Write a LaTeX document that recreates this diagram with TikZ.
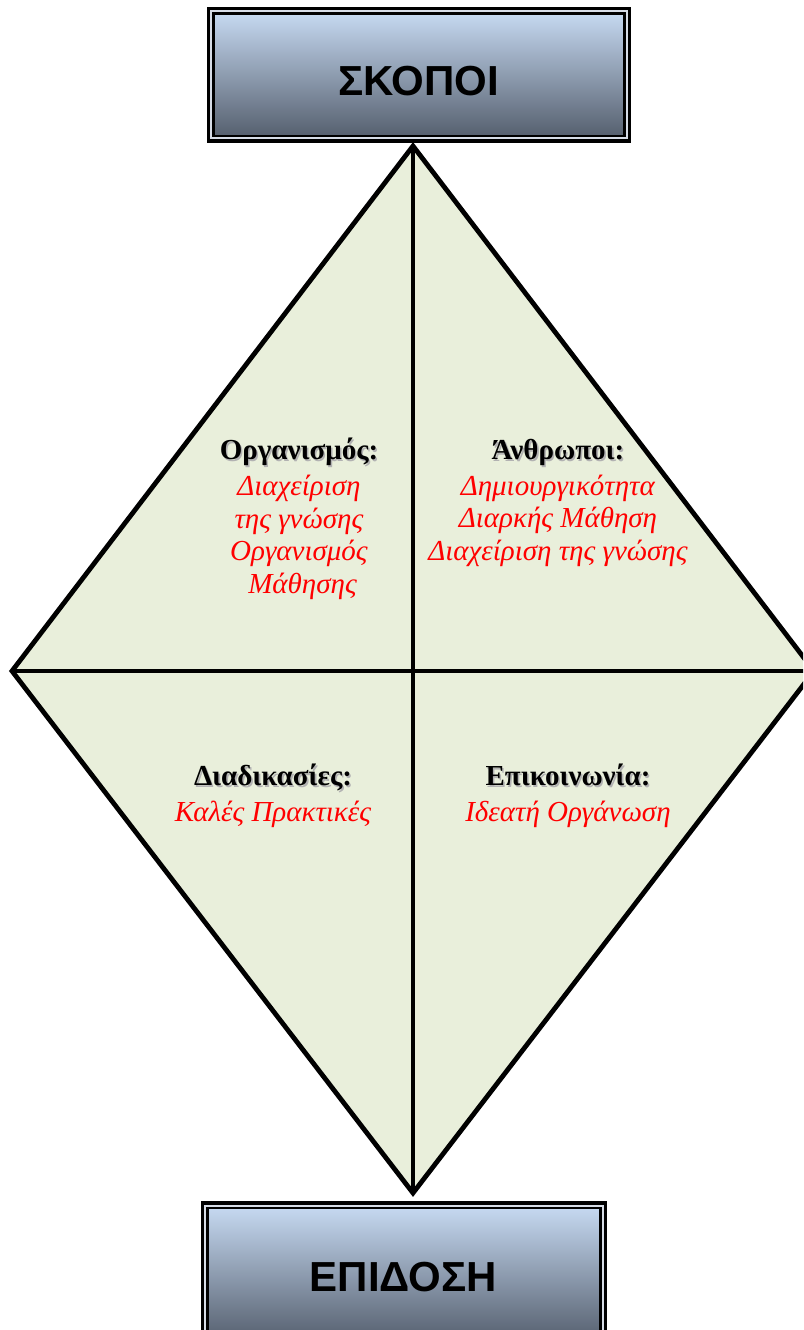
\documentclass[tikz,border=0pt]{standalone}
\usepackage{fontspec}
\setmainfont{Liberation Serif}
\newfontfamily\boxfont{Liberation Sans}
\definecolor{quadfill}{RGB}{233,239,219}
\definecolor{boxtop}{RGB}{197,216,240}
\definecolor{boxmid}{RGB}{165,180,202}
\definecolor{boxbot}{RGB}{86,96,111}
\definecolor{rim}{RGB}{214,220,230}
% bold heading with a soft grey drop shadow
\newcommand{\shadowed}[1]{\makebox[0pt][l]{\hspace{1.6pt}\raisebox{-1.6pt}{\color{black!30}#1}}#1}
\tikzset{
  diamondline/.style={line width=4.8pt, line join=miter},
  frameout/.style={draw=black, line width=3.5pt, fill=rim},
  framein/.style={draw=black, line width=2.2pt, top color=boxtop, middle color=boxmid, bottom color=boxbot},
  boxtitle/.style={font=\boxfont\bfseries\fontsize{42}{50}\selectfont, text=black},
  quadtext/.style={align=center, font=\fontsize{29}{32.7}\selectfont, text=red, inner sep=0pt},
}
\begin{document}
\begin{tikzpicture}[x=1pt,y=-1pt]
  \useasboundingbox (0,0) rectangle (803,1330);
  \clip (0,0) rectangle (803,1330);

  % corners of the diamond
  \coordinate (top) at (413,146);
  \coordinate (bot) at (413,1193);
  \coordinate (lft) at (12,671);
  \coordinate (rgt) at (814,671);

  \fill[quadfill] (top) -- (rgt) -- (bot) -- (lft) -- cycle;
  \draw[diamondline] (top) -- (bot);
  \draw[diamondline] (lft) -- (rgt);
  \draw[diamondline] (top) -- (rgt) -- (bot) -- (lft) -- cycle;

  % top box
  \draw[frameout] (208.5,8.5) rectangle (629.5,141);
  \draw[framein] (213.5,13.5) rectangle (624.5,136);
  \node[boxtitle] (goals) at (418.5,81) {ΣΚΟΠΟΙ};

  % bottom box
  \draw[frameout] (202.5,1203) rectangle (605.5,1345);
  \draw[framein] (207.5,1208) rectangle (600.5,1340);
  \node[boxtitle] (perf) at (403.5,1277) {ΕΠΙΔΟΣΗ};

  % the four quadrants
  \node[quadtext] (org) at (299,519) {%
    {\color{black}\shadowed{\textbf{Οργανισμός:}}}\\[3pt]
    \textit{Διαχείριση}\\
    \textit{της γνώσης}\\
    \textit{Οργανισμός}\\
    \textit{\ Μάθησης}};
  \node[quadtext] (ppl) at (558,503) {%
    {\color{black}\shadowed{\textbf{Άνθρωποι:}}}\\[3pt]
    \textit{Δημιουργικότητα}\\
    \textit{Διαρκής Μάθηση}\\
    \textit{Διαχείριση της γνώσης}};
  \node[quadtext] (proc) at (273,796) {%
    {\color{black}\shadowed{\textbf{Διαδικασίες:}}}\\[3pt]
    \textit{Καλές Πρακτικές}};
  \node[quadtext] (comm) at (568,796) {%
    {\color{black}\shadowed{\textbf{Επικοινωνία:}}}\\[3pt]
    \textit{Ιδεατή Οργάνωση}};
\end{tikzpicture}
\end{document}
